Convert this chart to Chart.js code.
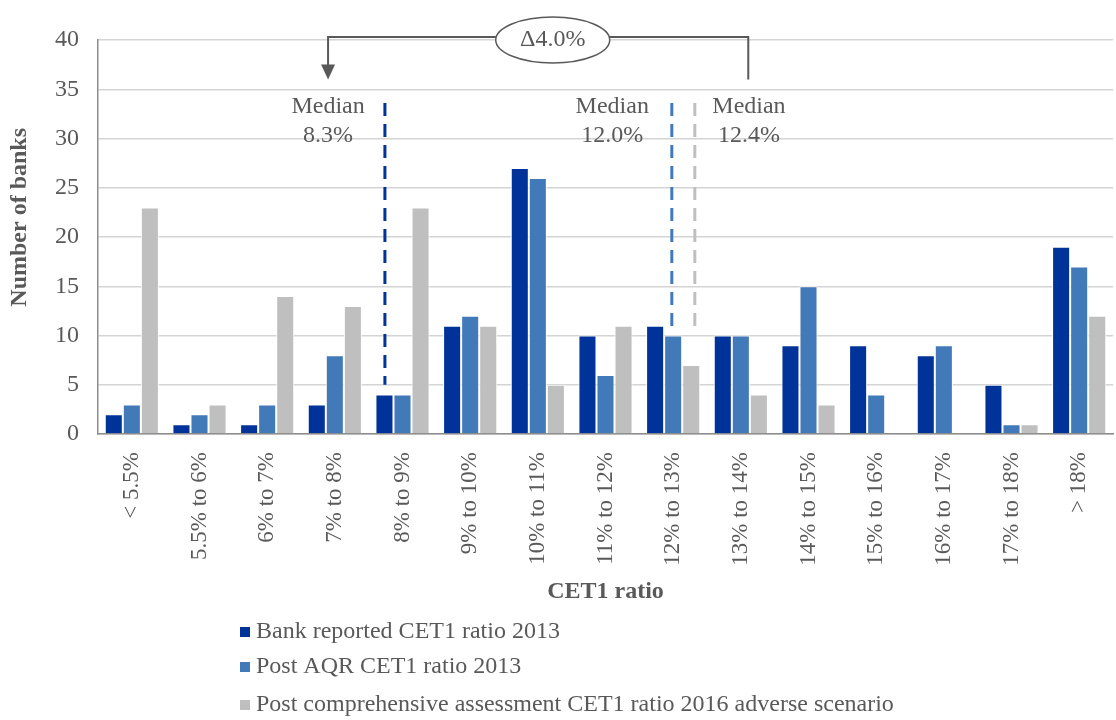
<!DOCTYPE html>
<html>
<head>
<meta charset="utf-8">
<script src="https://cdn.jsdelivr.net/npm/chart.js@4.4.1/dist/chart.umd.min.js"></script>
<style>
    body { margin: 0; background: #fff; }
    #wrap { width: 1116px; height: 720px; position: relative; }
</style>
</head>
<body>
<div id="wrap"><canvas id="chartCET1"></canvas></div>
<script>
// Categorias (faixas de CET1)
const categories = ['< 5.5%', '5.5% to 6%', '6% to 7%', '7% to 8%', '8% to 9%', '9% to 10%', '10% to 11%',
    '11% to 12%', '12% to 13%', '13% to 14%', '14% to 15%', '15% to 16%', '16% to 17%', '17% to 18%', '> 18%'];

// Séries
const bankReported = [2, 1, 1, 3, 4, 11, 27, 10, 11, 10, 9, 9, 8, 5, 19];
const postAQR = [3, 2, 3, 8, 4, 12, 26, 6, 10, 10, 15, 4, 9, 1, 17];
const postCA = [23, 3, 14, 13, 23, 11, 5, 11, 7, 4, 3, 0, 0, 1, 12];

const seriesNames = ['Bank reported CET1 ratio 2013', 'Post AQR CET1 ratio 2013',
    'Post comprehensive assessment CET1 ratio 2016 adverse scenario'];
const seriesColors = ['#003399', '#4279B8', '#BFBFBF'];

// Medianas: texto + posição no eixo de categorias (em unidades de categoria)
const medianLabels = ['8.3%', '12.0%', '12.4%'];
const medianAt = [3.74, 7.98, 8.32];
const medianLineEnd = [5, 10.3, 10.3];
const deltaLabel = '\u03944.0%';

const textColor = '#595959';
const serif = '"Liberation Serif", "Times New Roman", serif';

// Plugin das anotações (linhas de mediana, chave Δ, título do eixo y e legenda)
const annotations = {
    id: 'annotations',
    afterDatasetsDraw(chart) {
        const { ctx, scales: { x, y } } = chart;
        ctx.save();

        // linhas tracejadas
        ctx.lineWidth = 3;
        ctx.setLineDash([13, 8]);
        medianAt.forEach((m, i) => {
            const px = x.getPixelForValue(m);
            ctx.strokeStyle = seriesColors[i];
            ctx.beginPath();
            ctx.moveTo(px, y.getPixelForValue(33.6));
            ctx.lineTo(px, y.getPixelForValue(medianLineEnd[i]));
            ctx.stroke();
        });
        ctx.setLineDash([]);

        // textos "Median"
        ctx.fillStyle = textColor;
        ctx.font = '24px ' + serif;
        ctx.textAlign = 'center';
        ctx.textBaseline = 'middle';
        const textX = [2.90, 7.10, 9.12];
        textX.forEach((tx, i) => {
            const px = x.getPixelForValue(tx);
            ctx.fillText('Median', px, y.getPixelForValue(33.2));
            ctx.fillText(medianLabels[i], px, y.getPixelForValue(30.3));
        });

        // chave com seta
        const xl = x.getPixelForValue(2.90);
        const xr = x.getPixelForValue(9.11);
        const yTop = y.getPixelForValue(40.3);
        ctx.strokeStyle = '#595959';
        ctx.lineWidth = 2;
        ctx.beginPath();
        ctx.moveTo(xl, y.getPixelForValue(37.0));
        ctx.lineTo(xl, yTop);
        ctx.lineTo(xr, yTop);
        ctx.lineTo(xr, y.getPixelForValue(36.0));
        ctx.stroke();
        const tipY = y.getPixelForValue(36.0);
        ctx.fillStyle = '#595959';
        ctx.beginPath();
        ctx.moveTo(xl - 7, tipY - 15);
        ctx.lineTo(xl + 7, tipY - 15);
        ctx.lineTo(xl, tipY);
        ctx.closePath();
        ctx.fill();

        // elipse Δ
        const ex = x.getPixelForValue(6.22);
        ctx.beginPath();
        ctx.ellipse(ex, yTop + 3, 57, 23, 0, 0, Math.PI * 2);
        ctx.fillStyle = '#fff';
        ctx.fill();
        ctx.lineWidth = 1.5;
        ctx.stroke();
        ctx.fillStyle = textColor;
        ctx.fillText(deltaLabel, ex, yTop + 3);

        // título do eixo y (um pouco acima do centro, como no original)
        ctx.save();
        ctx.translate(20, y.getPixelForValue(22));
        ctx.rotate(-Math.PI / 2);
        ctx.font = 'bold 24px ' + serif;
        ctx.fillText('Number of banks', 0, 0);
        ctx.restore();

        // legenda vertical
        ctx.textAlign = 'left';
        const rows = [632, 667, 705];
        seriesNames.forEach((name, i) => {
            ctx.fillStyle = seriesColors[i];
            ctx.fillRect(240, rows[i] - 5, 10, 10);
            ctx.fillStyle = textColor;
            ctx.fillText(name, 256, rows[i]);
        });
        ctx.restore();
    }
};

const ctxCET1 = document.getElementById('chartCET1').getContext('2d');
new Chart(ctxCET1, {
    type: 'bar',
    data: {
        labels: categories,
        datasets: [bankReported, postAQR, postCA].map((d, i) => ({
            label: seriesNames[i],
            data: d,
            backgroundColor: seriesColors[i],
            borderColor: '#ffffff',
            borderWidth: 1,
            categoryPercentage: 0.8,
            barPercentage: 1.0
        }))
    },
    options: {
        responsive: true,
        maintainAspectRatio: false,
        animation: false,
        layout: { padding: { top: 40, right: 3, bottom: 110, left: 2 } },
        plugins: {
            legend: { display: false },
            tooltip: { enabled: false }
        },
        scales: {
            x: {
                grid: { display: false },
                border: { color: '#8c8c8c', width: 1.5 },
                ticks: {
                    color: textColor,
                    font: { family: serif, size: 23 },
                    minRotation: 90,
                    maxRotation: 90,
                    padding: 10
                },
                title: {
                    display: true,
                    text: 'CET1 ratio',
                    color: textColor,
                    font: { family: serif, size: 24, weight: 'bold' }
                },
                afterFit: (scale) => {
                    scale.height = 176;
                    scale.paddingLeft = 0;
                    scale.paddingRight = 0;
                }
            },
            y: {
                min: 0,
                max: 40,
                ticks: {
                    stepSize: 5,
                    color: textColor,
                    font: { family: serif, size: 24 },
                    padding: 19
                },
                grid: {
                    color: '#d4d4d4',
                    lineWidth: 1.5,
                    drawTicks: false
                },
                border: { color: '#8c8c8c', width: 1.5 },
                afterFit: (scale) => { scale.width = 96; }
            }
        }
    },
    plugins: [annotations]
});
</script>
</body>
</html>
